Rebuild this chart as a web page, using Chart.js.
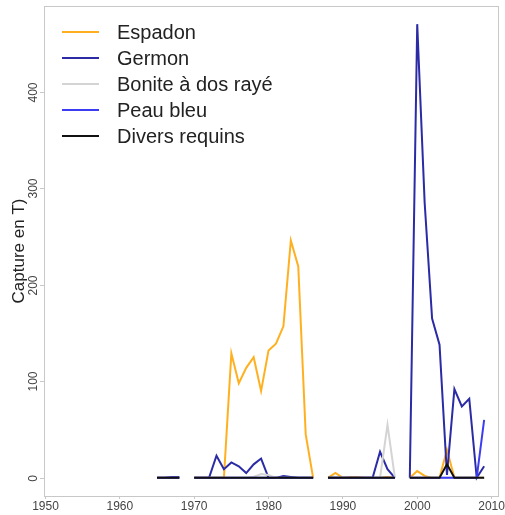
<!DOCTYPE html>
<html lang="fr">
<head>
<meta charset="utf-8">
<style>
  html, body { margin: 0; padding: 0; background: #fff; }
  #wrap { width: 505px; height: 515px; }
</style>
</head>
<body>
<div id="wrap"><canvas id="myChart" width="505" height="515"></canvas></div>
<script src="https://cdn.jsdelivr.net/npm/chart.js"></script>
<script>
// years (null values in the series = no data, line is broken there)
const years = [1965, 1966, 1967, 1968, 1969, 1970, 1971, 1972, 1973, 1974, 1975, 1976, 1977, 1978, 1979,
  1980, 1981, 1982, 1983, 1984, 1985, 1986, 1987, 1988, 1989, 1990, 1991, 1992, 1993, 1994, 1995, 1996,
  1997, 1998, 1999, 2000, 2001, 2002, 2003, 2004, 2005, 2006, 2007, 2008, 2009];

const espadon = [0, 0, 0, 0, null,
  0, 0, 0, 0, 0, 129, 98, 114, 125, 90, 132, 139, 157, 246, 219, 45, 0, null,
  0, 5, 0, 1, 1, 0, 0, 0, 1, 0, null,
  0, 7, 2, 0, 0, 29, 0, 0, 0, 0, 0];
const germon = [0, 0, 1, 1, null,
  0, 0, 0, 23, 9, 16, 12, 5, 14, 20, 0, 0, 2, 1, 0, 0, 0, null,
  0, 0, 0, 0, 0, 0, 0, 27, 9, 0, null,
  0, 470, 285, 165, 138, 3, 92, 74, 82, 0, 12];
const bonite = [0, 0, 0, 0, null,
  0, 0, 0, 0, 0, 0, 0, 0, 1, 4, 3, 0, 0, 0, 0, 0, 0, null,
  0, 0, 0, 0, 0, 0, 0, 0, 55, 0, null,
  0, 0, 0, 0, 0, 0, 0, 0, 0, 0, 0];
const peauBleu = [0, 0, 0, 0, null,
  0, 0, 0, 0, 0, 0, 0, 0, 0, 0, 0, 0, 0, 0, 0, 0, 0, null,
  0, 0, 0, 0, 0, 0, 0, 0, 0, 0, null,
  0, 0, 0, 0, 0, 0, 0, 0, 0, 0, 60];
const diversRequins = [0, 0, 0, 0, null,
  0, 0, 0, 0, 0, 0, 0, 0, 0, 0, 0, 0, 0, 0, 0, 0, 0, null,
  0, 0, 0, 0, 0, 0, 0, 0, 0, 0, null,
  0, 0, 0, 0, 0, 14, 0, 0, 0, 0, 0];

const seriesNames = ['Espadon', 'Germon', 'Bonite à dos rayé', 'Peau bleu', 'Divers requins'];
const seriesColors = ['#FFB020', '#2B2BA6', '#D4D4D4', '#3C3CF2', '#111111'];
const xTicks = [1950, 1960, 1970, 1980, 1990, 2000, 2010];
const yTicks = [0, 100, 200, 300, 400];

const FONT = '"Liberation Sans", Arial, sans-serif';
const allSeries = [espadon, germon, bonite, peauBleu, diversRequins];

const datasets = allSeries.map((vals, i) => ({
  label: seriesNames[i],
  data: years.map((yr, j) => ({ x: yr, y: vals[j] })),
  borderColor: seriesColors[i],
  backgroundColor: seriesColors[i],
  borderWidth: 2,
  pointRadius: 0,
  tension: 0,
  spanGaps: false,
  // R draws the series in order, so the last one ends up on top
  order: allSeries.length - 1 - i
}));

// box, y labels (rotated like R) and the legend inside the plot
const rStyle = {
  id: 'rStyle',
  afterDraw(chart) {
    const ctx = chart.ctx;
    const a = chart.chartArea;
    const ys = chart.scales.y;
    ctx.save();
    ctx.strokeStyle = '#C8C8C8';
    ctx.lineWidth = 1;
    ctx.strokeRect(a.left + 0.5, a.top + 0.5, a.right - a.left - 1, a.bottom - a.top);

    ctx.fillStyle = '#444';
    ctx.font = '12px ' + FONT;
    ctx.textAlign = 'center';
    ctx.textBaseline = 'middle';
    yTicks.forEach(v => {
      const py = Math.round(ys.getPixelForValue(v)) + 0.5;
      ctx.beginPath();
      ctx.moveTo(a.left - 4, py);
      ctx.lineTo(a.left, py);
      ctx.stroke();
      ctx.save();
      ctx.translate(34, py);
      ctx.rotate(-Math.PI / 2);
      ctx.fillText(String(v), 0, 0);
      ctx.restore();
    });

    // legend
    ctx.font = '20px ' + FONT;
    ctx.textAlign = 'left';
    chart.data.datasets.forEach((ds, i) => {
      const ly = 32 + i * 26;
      ctx.strokeStyle = ds.borderColor;
      ctx.lineWidth = 2;
      ctx.beginPath();
      ctx.moveTo(62, ly);
      ctx.lineTo(99, ly);
      ctx.stroke();
      ctx.fillStyle = '#222';
      ctx.fillText(ds.label, 117, ly + 1);
    });
    ctx.restore();
  }
};

const config = {
  type: 'line',
  data: { datasets: datasets },
  options: {
    responsive: false,
    animation: false,
    layout: { padding: { top: 6, right: 5, left: 0, bottom: 0 } },
    plugins: { legend: { display: false }, tooltip: { enabled: false } },
    scales: {
      x: {
        type: 'linear',
        min: 1949.8,
        max: 2011,
        afterBuildTicks: s => { s.ticks = xTicks.map(v => ({ value: v })); },
        afterFit: s => { s.height = 19; },
        border: { display: false },
        grid: { drawOnChartArea: false, drawTicks: true, tickLength: 3, color: '#C8C8C8' },
        ticks: { color: '#444', padding: 0, maxRotation: 0, font: { family: FONT, size: 12 },
          callback: v => String(v) }
      },
      y: {
        min: -18.8,
        max: 488.8,
        afterBuildTicks: s => { s.ticks = yTicks.map(v => ({ value: v })); },
        afterFit: s => { s.width = 44; },
        border: { display: false },
        grid: { display: false },
        ticks: { display: false },
        title: { display: true, text: 'Capture en T)', color: '#222',
          font: { family: FONT, size: 17 }, padding: { top: 9, bottom: 0 } }
      }
    }
  },
  plugins: [rStyle]
};

const myChart = new Chart(document.getElementById('myChart'), config);
</script>
</body>
</html>
